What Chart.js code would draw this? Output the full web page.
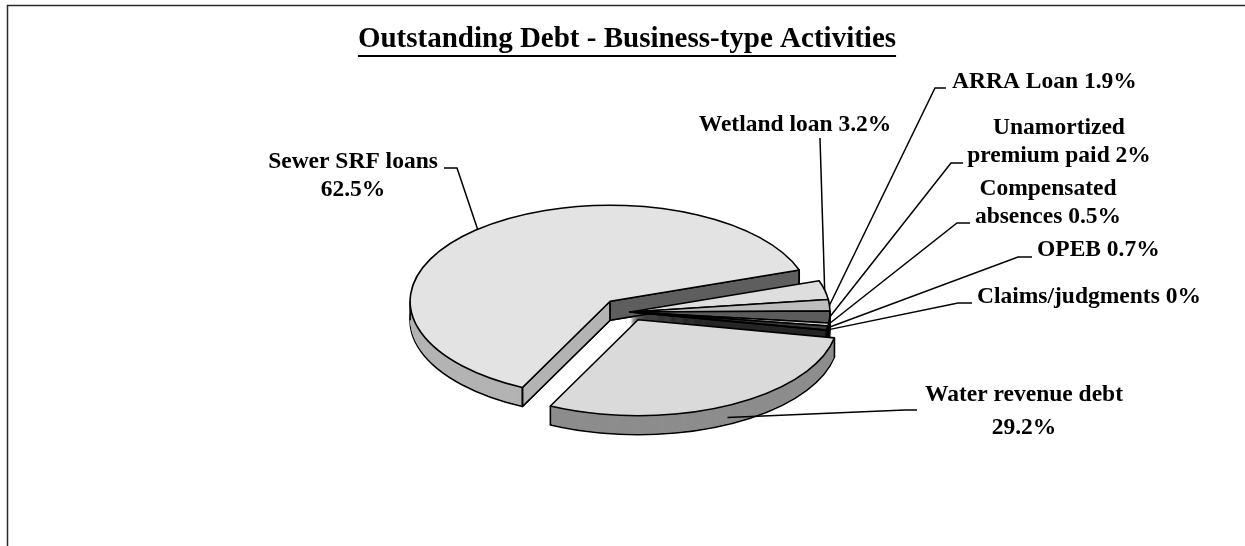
<!DOCTYPE html>
<html lang="en">
<head>
<meta charset="utf-8">
<title>Outstanding Debt - Business-type Activities</title>
<script src="https://cdn.jsdelivr.net/npm/chart.js@4.4.1/dist/chart.umd.min.js"></script>
<style>
  html, body { margin: 0; padding: 0; background: #fff; }
  canvas { display: block; }
</style>
</head>
<body>
<canvas id="debtChart" width="1245" height="546"></canvas>
<script>
// --------- Data ---------
const TITLE = "Outstanding Debt - Business-type Activities";
// slices clockwise, starting at the back edge of the sewer slice
const CATEGORIES = [
    "Wetland loan",
    "ARRA Loan",
    "Unamortized premium paid",
    "Compensated absences",
    "OPEB",
    "Claims/judgments",
    "Water revenue debt",
    "Sewer SRF loans",
];
const SHARE_PCT = [3.2, 1.9, 2, 0.5, 0.7, 0, 29.2, 62.5];
// how each name wraps in its callout ("" puts the value on its own line)
const NAME_LINES = [
    ["Wetland loan"],
    ["ARRA Loan"],
    ["Unamortized", "premium paid"],
    ["Compensated", "absences"],
    ["OPEB"],
    ["Claims/judgments"],
    ["Water revenue debt", ""],
    ["Sewer SRF loans", ""],
];

// --------- Look ---------
const FONT = '"Liberation Serif", "Times New Roman", serif';
const TILT = 0.48; // vertical squash of the disc
const DEPTH = 19; // disc thickness, px
const EXPLODE = [0, 0, 0, 0, 0, 0, 18, 30];
const TOP_FILL = ["#dedede", "#bdbdbd", "#5c5c5c", "#cfcfcf", "#3c3c3c", "#000000", "#dadada", "#e3e3e3"];
const SIDE_FILL = ["#9a9a9a", "#707070", "#383838", "#8a8a8a", "#262626", "#000000", "#8d8d8d", "#b3b3b3"];
const CUT_FILL = "#5e5e5e"; // radial face left open where a slice is pulled out

// callout text anchor, leader bend points, and where the leader meets the slice
const CALLOUTS = [
    { x: 795, y: 125, align: "center", bend: [[820, 138]], reach: 1, drop: 0 },
    { x: 952, y: 82, align: "left", bend: [[946, 88], [935, 88]], reach: 1, drop: 0 },
    { x: 1059, y: 128, align: "center", bend: [[963, 163], [951, 163]], reach: 1, drop: 0 },
    { x: 1048, y: 189, align: "center", bend: [[970, 223], [957, 223]], reach: 1, drop: 0 },
    { x: 1037, y: 250, align: "left", bend: [[1032, 257], [1018, 257]], reach: 1, drop: 0 },
    { x: 977, y: 297, align: "left", bend: [[972, 303], [958, 303]], reach: 1, drop: 0 },
    { x: 1024, y: 395, align: "center", bend: [[917, 410], [905, 410]], reach: 1, drop: 12, gap: 33 },
    { x: 353, y: 162, align: "center", bend: [[444, 168], [457, 168]], reach: 1, drop: 0 },
];

// --------- Tilted disc helpers ---------
function midAngle(arc) {
    return (arc.startAngle + arc.endAngle) / 2;
}

// maps the flat pie frame onto the squashed, pulled-out disc
function tilt(ctx, arc, i, drop) {
    const a = midAngle(arc),
        e = EXPLODE[i];
    ctx.translate(arc.x, arc.y + drop);
    ctx.scale(1, TILT);
    ctx.translate(-arc.x + Math.cos(a) * e, -arc.y + Math.sin(a) * e);
}

function project(arc, i, angle, r, drop) {
    const a = midAngle(arc),
        e = EXPLODE[i];
    return {
        x: arc.x + Math.cos(a) * e + Math.cos(angle) * r,
        y: arc.y + drop + TILT * (Math.sin(a) * e + Math.sin(angle) * r),
    };
}

function paintFace(ctx, arc, i, drop, color) {
    if (!arc.circumference) return;
    const face = Object.create(arc);
    face.options = Object.assign({}, arc.options, { backgroundColor: color, borderWidth: 0, offset: 0 });
    ctx.save();
    tilt(ctx, arc, i, drop);
    face.draw(ctx);
    ctx.restore();
}

// path is built in the squashed frame, stroked in screen space so lines keep their width
function outlineFace(ctx, arc, i, drop) {
    ctx.save();
    tilt(ctx, arc, i, drop);
    ctx.beginPath();
    ctx.moveTo(arc.x, arc.y);
    ctx.arc(arc.x, arc.y, arc.outerRadius, arc.startAngle, arc.endAngle);
    ctx.closePath();
    ctx.restore();
    ctx.stroke();
}

function edgeDown(ctx, p) {
    ctx.beginPath();
    ctx.moveTo(p.x, p.y);
    ctx.lineTo(p.x, p.y + DEPTH);
    ctx.stroke();
}

function paintCut(ctx, arc, i, angle, color) {
    const r = arc.outerRadius;
    const pts = [
        project(arc, i, angle, 0, 0),
        project(arc, i, angle, r, 0),
        project(arc, i, angle, r, DEPTH),
        project(arc, i, angle, 0, DEPTH),
    ];
    ctx.beginPath();
    pts.forEach((q, k) => (k ? ctx.lineTo(q.x, q.y) : ctx.moveTo(q.x, q.y)));
    ctx.closePath();
    ctx.fillStyle = color;
    ctx.fill();
    ctx.stroke();
}

const tiltedPie = {
    id: "tiltedPie",
    beforeDatasetsDraw(chart) {
        const ctx = chart.ctx;
        const arcs = chart.getDatasetMeta(0).data;
        ctx.save();
        ctx.strokeStyle = "#000";
        ctx.lineWidth = 1.6;
        ctx.lineJoin = "round";

        // side walls: stacked copies under each top face
        for (let d = DEPTH; d >= 1; d--) {
            arcs.forEach((arc, i) => paintFace(ctx, arc, i, d, SIDE_FILL[i]));
            if (d === DEPTH) arcs.forEach((arc, i) => outlineFace(ctx, arc, i, d));
        }

        // open radial faces of pulled-out slices
        arcs.forEach((arc, i) => {
            if (!EXPLODE[i]) return;
            if (Math.sin(arc.startAngle - Math.PI / 2) > 0) paintCut(ctx, arc, i, arc.startAngle, SIDE_FILL[i]);
            if (Math.sin(arc.endAngle + Math.PI / 2) > 0) paintCut(ctx, arc, i, arc.endAngle, CUT_FILL);
        });

        // vertical edges at slice corners and at the disc silhouette
        arcs.forEach((arc, i) => {
            if (!arc.circumference) return;
            edgeDown(ctx, project(arc, i, arc.startAngle, arc.outerRadius, 0));
            edgeDown(ctx, project(arc, i, arc.endAngle, arc.outerRadius, 0));
            [0, Math.PI, 2 * Math.PI].forEach((t) => {
                if (arc.startAngle < t && t < arc.endAngle) edgeDown(ctx, project(arc, i, t, arc.outerRadius, 0));
            });
        });

        // top faces
        arcs.forEach((arc, i) => {
            paintFace(ctx, arc, i, 0, arc.options.backgroundColor);
            outlineFace(ctx, arc, i, 0);
        });
        ctx.restore();
        return false;
    },
};

// --------- Callouts, title, frame ---------
function calloutText(i) {
    const lines = NAME_LINES[i].slice();
    const last = lines.length - 1;
    lines[last] = (lines[last] + " " + SHARE_PCT[i] + "%").trim();
    return lines;
}

const callouts = {
    id: "callouts",
    afterDraw(chart) {
        const ctx = chart.ctx;
        const arcs = chart.getDatasetMeta(0).data;
        ctx.save();
        ctx.fillStyle = "#000";
        ctx.strokeStyle = "#000";
        ctx.lineWidth = 1.5;
        ctx.textBaseline = "middle";
        ctx.font = "bold 23.5px " + FONT;

        arcs.forEach((arc, i) => {
            const spot = CALLOUTS[i];
            ctx.textAlign = spot.align;
            calloutText(i).forEach((t, k) => ctx.fillText(t, spot.x, spot.y + k * (spot.gap || 28)));

            const end = project(arc, i, midAngle(arc), arc.outerRadius * spot.reach, spot.drop);
            ctx.beginPath();
            spot.bend.forEach((p, k) => (k ? ctx.lineTo(p[0], p[1]) : ctx.moveTo(p[0], p[1])));
            ctx.lineTo(end.x, end.y);
            ctx.stroke();
        });

        // underlined title
        ctx.font = "bold 29px " + FONT;
        ctx.textAlign = "center";
        ctx.textBaseline = "alphabetic";
        ctx.fillText(TITLE, 627, 47);
        const w = ctx.measureText(TITLE).width;
        ctx.lineWidth = 2;
        ctx.beginPath();
        ctx.moveTo(627 - w / 2, 56);
        ctx.lineTo(627 + w / 2, 56);
        ctx.stroke();

        // frame (top and left edges only)
        ctx.strokeStyle = "#2a2a2a";
        ctx.lineWidth = 1.5;
        ctx.beginPath();
        ctx.moveTo(7.5, 546);
        ctx.lineTo(7.5, 5.5);
        ctx.lineTo(1245, 5.5);
        ctx.stroke();
        ctx.restore();
    },
};

new Chart(document.getElementById("debtChart"), {
    type: "pie",
    data: {
        labels: CATEGORIES,
        datasets: [
            {
                data: SHARE_PCT,
                backgroundColor: TOP_FILL,
                borderWidth: 0,
                rotation: 71,
                radius: 200,
            },
        ],
    },
    options: {
        responsive: false,
        animation: false,
        events: [],
        layout: { padding: { left: 15, right: 0, top: 78, bottom: 0 } },
        plugins: {
            legend: { display: false },
            tooltip: { enabled: false },
        },
    },
    plugins: [tiltedPie, callouts],
});
</script>
</body>
</html>
